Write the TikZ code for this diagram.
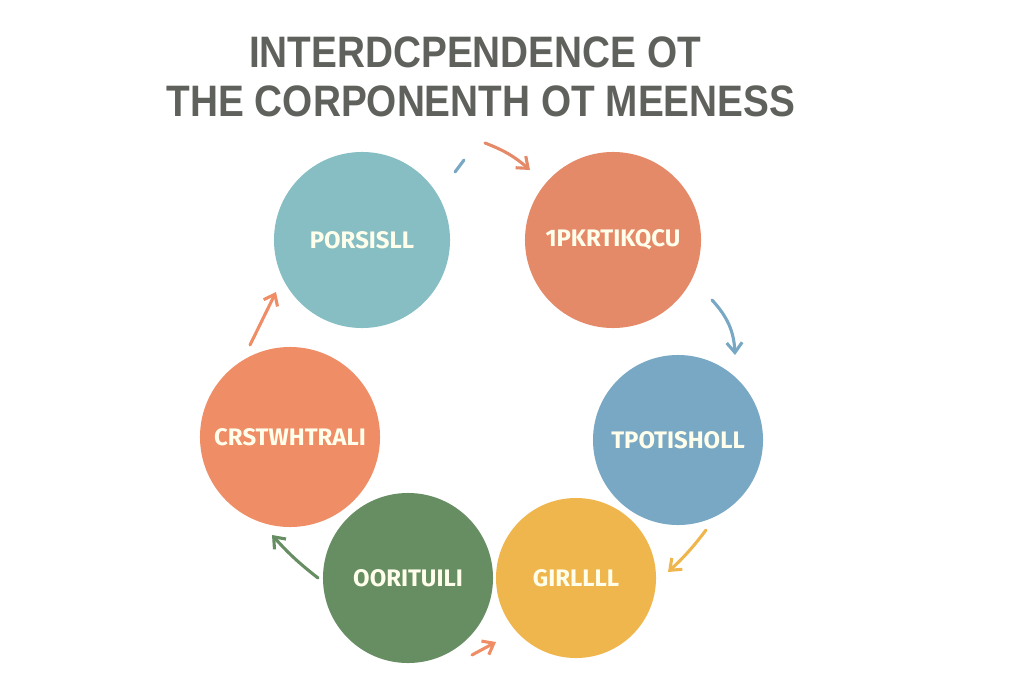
\documentclass[tikz,border=0pt]{standalone}
\usepackage{fontspec}
\setmainfont{Liberation Sans}
\newfontfamily\labelfont{Fira Sans}
\usetikzlibrary{arrows.meta}
\definecolor{teal1}{HTML}{86BEC4}
\definecolor{coral1}{HTML}{E58A68}
\definecolor{blue1}{HTML}{78A8C4}
\definecolor{gold1}{HTML}{F0B64E}
\definecolor{green1}{HTML}{678E63}
\definecolor{coral2}{HTML}{EE8D66}
\definecolor{titlegray}{HTML}{5F615C}
\begin{document}
\begin{tikzpicture}[x=0.025cm,y=-0.025cm,
    ball/.style={circle,inner sep=0pt,text=white!92!yellow,font=\labelfont\bfseries\fontsize{17}{17}\selectfont},
    link/.style={line width=2.2pt,line cap=round,-{Straight Barb[length=7pt,width=11pt]}}]
\useasboundingbox (0,0) rectangle (1024,683);
\node[font=\bfseries\fontsize{29}{29}\selectfont,text=titlegray] (T1) at (475,52) {\scalebox{0.95}[1.08]{INTERDCPENDENCE OT}};
\node[font=\bfseries\fontsize{29}{29}\selectfont,text=titlegray] (T2) at (481,101) {\scalebox{0.95}[1.08]{THE CORPONENTH OT MEENESS}};
\begin{scope}
    \node[ball,fill=teal1,minimum size=4.4cm] (A) at (362,240) {PORSISLL};
    \node[ball,fill=coral1,minimum size=4.4cm] (B) at (613,240) {1PKRTIKQCU};
    \node[ball,fill=blue1,minimum size=4.25cm] (C) at (678,440) {TPOTISHOLL};
    \node[ball,fill=gold1,minimum size=4cm] (D) at (576,578) {GIRLLLL};
    \node[ball,fill=green1,minimum size=4.25cm] (E) at (408,578) {OORITUILI};
    \node[ball,fill=coral2,minimum size=4.5cm] (F) at (290,437) {CRSTWHTRALI};
\end{scope}
\coordinate (a1) at (455,172); \coordinate (a2) at (464,160);
\coordinate (b1) at (485,143); \coordinate (b2) at (530,170);
\coordinate (c1) at (712,300); \coordinate (c2) at (735,355);
\coordinate (d1) at (706,530); \coordinate (d2) at (668,572);
\coordinate (e1) at (472,655); \coordinate (e2) at (496,642);
\coordinate (f1) at (318,578); \coordinate (f2) at (272,535);
\coordinate (g1) at (250,345); \coordinate (g2) at (276,292);
\draw[line width=2.2pt,line cap=round,draw=blue1] (a1) -- (a2);
\draw[link,draw=coral1] (b1) to[bend left=10] (b2);
\draw[link,draw=blue1] (c1) to[bend left=20] (c2);
\draw[link,draw=gold1] (d1) to[bend left=5] (d2);
\draw[link,draw=coral2] (e1) -- (e2);
\draw[link,draw=green1] (f1) to[bend left=5] (f2);
\draw[link,draw=coral2] (g1) -- (g2);
\end{tikzpicture}
\end{document}
